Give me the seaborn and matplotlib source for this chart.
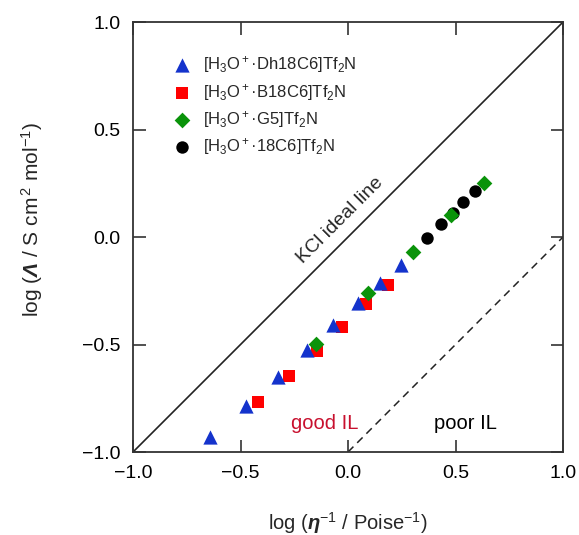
import numpy as np
import pandas as pd
import seaborn as sns
import matplotlib.pyplot as plt

# data (log eta^-1 vs log Lambda)
dh18c6_x = [-0.642, -0.474, -0.326, -0.191, -0.070, 0.047, 0.149, 0.247]
dh18c6_y = [-0.930, -0.786, -0.651, -0.526, -0.409, -0.307, -0.214, -0.130]
b18c6_x = [-0.419, -0.274, -0.144, -0.028, 0.084, 0.186]
b18c6_y = [-0.767, -0.647, -0.530, -0.419, -0.312, -0.223]
g5_x = [-0.149, 0.093, 0.302, 0.479, 0.633]
g5_y = [-0.498, -0.260, -0.070, 0.102, 0.251]
c18c6_x = [0.367, 0.433, 0.488, 0.535, 0.591]
c18c6_y = [-0.005, 0.060, 0.112, 0.163, 0.214]

labels = ["[H$_3$O$^+$·Dh18C6]Tf$_2$N", "[H$_3$O$^+$·B18C6]Tf$_2$N",
          "[H$_3$O$^+$·G5]Tf$_2$N", "[H$_3$O$^+$·18C6]Tf$_2$N"]
ideal_x = [-1.0, 1.0]
ideal_y = [-1.0, 1.0]
poor_x = [0.0, 1.0]
poor_y = [-1.0, 0.0]

sns.set_style("ticks")
plt.rcParams["font.family"] = ["Liberation Sans", "DejaVu Sans"]
plt.rcParams["mathtext.fontset"] = "custom"
plt.rcParams["mathtext.rm"] = "Liberation Sans"
plt.rcParams["mathtext.it"] = "Liberation Sans:italic"
plt.rcParams["mathtext.bf"] = "Liberation Sans:bold"
plt.rcParams["mathtext.bfit"] = "Liberation Sans:italic:bold"

fig = plt.figure(figsize=(5.79, 5.35), dpi=100)
ax = fig.add_axes([0.2297, 0.1551, 0.7427, 0.8037])

# reference lines
sns.lineplot(x=ideal_x, y=ideal_y, color="#222222", lw=1.2, ax=ax)
ax.plot(poor_x, poor_y, color="#222222", lw=1.1, ls=(0, (5, 3.5)))

# series, drawn back to front
df_c = pd.DataFrame({"x": c18c6_x, "y": c18c6_y})
df_b = pd.DataFrame({"x": b18c6_x, "y": b18c6_y})
df_g = pd.DataFrame({"x": g5_x, "y": g5_y})
df_d = pd.DataFrame({"x": dh18c6_x, "y": dh18c6_y})

sns.scatterplot(data=df_c, x="x", y="y", marker="o", s=80, color="black",
                linewidth=0, label=labels[3], ax=ax, zorder=3)
sns.scatterplot(data=df_b, x="x", y="y", marker="s", s=78, color="#ff0000",
                linewidth=0, label=labels[1], ax=ax, zorder=4)
sns.scatterplot(data=df_g, x="x", y="y", marker="D", s=64, color="#0a930a",
                linewidth=0, label=labels[2], ax=ax, zorder=5)
sns.scatterplot(data=df_d, x="x", y="y", marker="^", s=105, color="#1433cc",
                linewidth=0, label=labels[0], ax=ax, zorder=6)

handles, labs = ax.get_legend_handles_labels()
order = [labs.index(l) for l in labels]
ax.legend([handles[i] for i in order], [labs[i] for i in order],
          loc="upper left", bbox_to_anchor=(0.087, 0.925), frameon=False,
          fontsize=12, handlelength=1.4, handletextpad=0.55,
          labelspacing=0.38, borderpad=0, borderaxespad=0)

ax.text(-0.035, 0.078, "KCl ideal line", rotation=45, fontsize=14,
        ha="center", va="center", rotation_mode="anchor")
ax.text(-0.107, -0.868, "good IL", color="#c8102e", fontsize=14.5,
        ha="center", va="center")
ax.text(0.544, -0.868, "poor IL", color="black", fontsize=14.5,
        ha="center", va="center")

ax.set_xlim(-1, 1)
ax.set_ylim(-1, 1)
ax.set_xticks(np.arange(-1, 1.01, 0.5))
ax.set_yticks(np.arange(-1, 1.01, 0.5))
ax.tick_params(direction="in", length=9, width=1.1, top=True, right=True,
               pad=9, labelsize=14, colors="#222222", labelcolor="black")
for sp in ax.spines.values():
    sp.set_linewidth(1.3)
    sp.set_color("#333333")
ax.set_xlabel("")
ax.set_ylabel("")

fig.text(32 / 579, 1 - 220 / 535,
         r"log ($\mathbfit{\Lambda}$ / S cm$^{\,2}$ mol$^{-1}$)",
         rotation=90, ha="center", va="center", fontsize=15)
fig.text(348 / 579, 1 - 523 / 535,
         r"log ($\mathbfit{\eta}^{-1}$ / Poise$^{-1}$)",
         ha="center", va="center", fontsize=14.5)

fig.savefig("out.png", dpi=100)
